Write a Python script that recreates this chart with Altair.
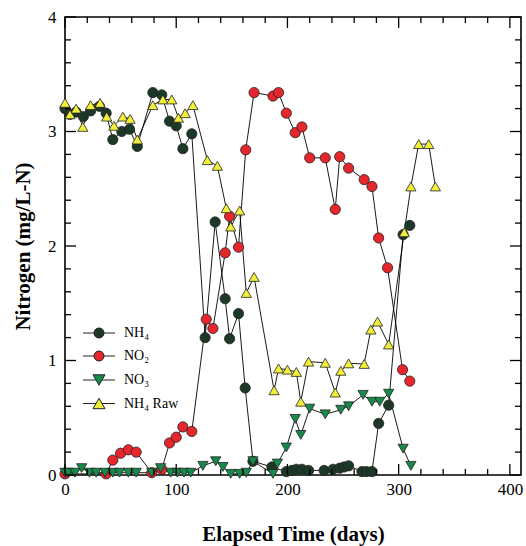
import altair as alt
import pandas as pd

# ---------------- data ----------------
series_names = ["NH₄", "NO₂", "NO₃", "NH₄ Raw"]

nh4_days = [0, 4.5, 10, 16.5, 23, 31, 37, 43, 51, 58, 65, 79, 87, 94, 100, 106, 114,
            126, 135, 144, 148, 156, 162, 169, 186, 199, 204, 208, 213, 219, 233, 241,
            247, 251, 255, 267, 271, 276, 282, 291, 304, 310]
nh4_vals = [3.20, 3.15, 3.17, 3.13, 3.18, 3.22, 3.16, 2.93, 3.00, 3.02, 2.87, 3.34, 3.32,
            3.09, 3.05, 2.85, 2.98, 1.20, 2.21, 1.54, 1.19, 1.41, 0.76, 0.12, 0.07, 0.03,
            0.04, 0.05, 0.05, 0.04, 0.04, 0.05, 0.06, 0.07, 0.08, 0.03, 0.03, 0.03, 0.45,
            0.61, 2.10, 2.18]

no2_days = [0, 37, 43, 50, 57, 64, 78, 87, 94, 100, 106, 114, 127,
            133, 144, 148, 156, 162.5, 170, 187, 192, 199, 207, 213, 220, 234, 243, 247,
            255, 269, 276, 282, 290, 303.5, 310]
no2_vals = [0.01, 0.01, 0.13, 0.19, 0.22, 0.20, 0.02, 0.05,
            0.28, 0.33, 0.42, 0.38, 1.36, 1.28, 1.94, 2.26, 1.99, 2.84, 3.34, 3.31, 3.34,
            3.16, 2.99, 3.04, 2.77, 2.77, 2.32, 2.78, 2.68, 2.58, 2.52, 2.07, 1.81, 0.92,
            0.82]

no3_days = [0, 3, 9, 15, 22, 28, 36, 43, 49, 57, 64, 78, 86, 95, 101, 107, 113, 124,
            135.5, 142, 149, 157, 163, 169, 187, 191, 199, 207, 212, 220, 234, 248, 255,
            268, 276, 283, 291, 304, 311]
no3_vals = [0.02, 0.02, 0.02, 0.06, 0.02, 0.02, 0.02, 0.02, 0.02, 0.02, 0.02, 0.02, 0.06,
            0.02, 0.02, 0.02, 0.02, 0.08, 0.12, 0.07, 0.01, 0.01, 0.02, 0.12, 0.01, 0.10,
            0.24, 0.49, 0.35, 0.58, 0.53, 0.57, 0.60, 0.70, 0.64, 0.64, 0.71, 0.23, 0.08]

raw_days = [0, 4.5, 10, 16, 23, 31.5, 37.5, 44, 52, 58.5, 65, 79, 88, 96, 102, 108, 115,
            128, 137, 145, 149, 157, 163, 170, 188, 192, 200, 208, 212, 219, 234, 243,
            248, 255, 269, 275, 281, 291, 305, 311, 318, 327, 333]
raw_vals = [3.25, 3.15, 3.20, 3.04, 3.23, 3.25, 3.13, 3.05, 3.13, 3.11, 2.93, 3.23, 3.28,
            3.28, 3.12, 3.16, 3.23, 2.75, 2.70, 2.33, 2.17, 2.31, 1.59, 1.73, 0.74, 0.93,
            0.92, 0.90, 0.64, 0.99, 0.98, 0.72, 0.91, 0.975, 0.97, 1.27, 1.34, 1.14, 2.12,
            2.52, 2.89, 2.89, 2.52]

fill_colors = ["#1c3826", "#e5262c", "#178a4b", "#f2ef3a"]
shape_list = ["circle", "circle", "triangle-down", "triangle-up"]

x_major = [0, 100, 200, 300, 400]
x_minor = [20, 40, 60, 80, 120, 140, 160, 180, 220, 240, 260, 280, 320, 340, 360, 380]
y_major = [0, 1, 2, 3, 4]
y_minor = [0.2, 0.4, 0.6, 0.8, 1.2, 1.4, 1.6, 1.8, 2.2, 2.4, 2.6, 2.8, 3.2, 3.4, 3.6, 3.8]

# ---------------- table ----------------
rows = []
for name, ds, vs in [(series_names[0], nh4_days, nh4_vals),
                     (series_names[1], no2_days, no2_vals),
                     (series_names[2], no3_days, no3_vals),
                     (series_names[3], raw_days, raw_vals)]:
    for d, v in zip(ds, vs):
        rows.append({"day": d, "value": v, "series": name, "key": name})
df = pd.DataFrame(rows)

W, H = 456, 458
FONT = "Liberation Serif"
MAJ, MIN = 11, 6

xscale = alt.Scale(domain=[0, 410], nice=False, zero=False)
yscale = alt.Scale(domain=[0, 4], nice=False, zero=False)

x_axis = alt.Axis(values=x_major, format="d", ticks=False, domain=False, grid=False,
                  labelFont=FONT, labelFontSize=17, labelColor="black", labelPadding=6,
                  labelFlush=False, title="Elapsed Time (days)", titleFont=FONT,
                  titleFontSize=21, titleFontWeight="bold", titleColor="black",
                  titlePadding=26)
y_axis = alt.Axis(values=y_major, format="d", ticks=False, domain=False, grid=False,
                  labelFont=FONT, labelFontSize=17, labelColor="black", labelPadding=9,
                  labelFlush=False, title="Nitrogen (mg/L-N)", titleFont=FONT,
                  titleFontSize=21, titleFontWeight="bold", titleColor="black",
                  titlePadding=14)

X = alt.X("day:Q", scale=xscale, axis=x_axis)
Y = alt.Y("value:Q", scale=yscale, axis=y_axis)

lines = alt.Chart(df).mark_line(color="black", strokeWidth=0.9).encode(
    x=X, y=Y, detail="series:N",
)

points = alt.Chart(df).mark_point(filled=True, opacity=1, stroke="#222222",
                                  strokeWidth=0.8).encode(
    x=X, y=Y,
    color=alt.Color("series:N", scale=alt.Scale(domain=series_names, range=fill_colors),
                    legend=None),
    shape=alt.Shape("series:N", scale=alt.Scale(domain=series_names, range=shape_list),
                    legend=None),
    size=alt.value(105),
)

# legend symbols: marker with a line through it (custom paths, unit = sqrt(size)/2)
circ = "M-3.2,0L-1,0M1,0L3.2,0M1,0A1,1,0,1,1,-1,0A1,1,0,1,1,1,0Z"
tri_up = "M-3.2,0L-0.6,0M0.6,0L3.2,0M0,-1.04L1.2,1.04L-1.2,1.04Z"
tri_dn = "M-3.2,0L-0.6,0M0.6,0L3.2,0M0,1.04L1.2,-1.04L-1.2,-1.04Z"

LEG_X, LEG_Y, ROW = 27, 309, 23.5


def legend_group(names, colors, path, row0):
    leg = alt.Legend(orient="none", legendX=LEG_X, legendY=LEG_Y + ROW * row0,
                     title=None, padding=0, labelFont=FONT, labelFontSize=14,
                     labelColor="black", symbolType=path, symbolSize=100,
                     symbolStrokeColor="#222222", symbolStrokeWidth=1,
                     symbolOpacity=1, rowPadding=9, labelOffset=18)
    sub = df[df["key"].isin(names)]
    return alt.Chart(sub).mark_point(filled=False, opacity=0, stroke="#222222",
                                     strokeWidth=1).encode(
        x=X, y=Y,
        fill=alt.Fill("key:N", scale=alt.Scale(domain=names, range=colors), legend=leg),
    )


leg_a = legend_group(series_names[0:2], fill_colors[0:2], circ, 0)
leg_b = legend_group(series_names[2:3], fill_colors[2:3], tri_dn, 2)
leg_c = legend_group(series_names[3:4], fill_colors[3:4], tri_up, 3)


def xticks(vals, length, top):
    d = pd.DataFrame({"t": vals})
    if top:
        ye = dict(y=alt.value(0), y2=alt.value(length))
    else:
        ye = dict(y=alt.value(H), y2=alt.value(H - length))
    return alt.Chart(d).mark_rule(color="black", strokeWidth=1.3).encode(
        x=alt.X("t:Q", scale=xscale, axis=x_axis), **ye)


def yticks(vals, length, right):
    d = pd.DataFrame({"t": vals})
    if right:
        xe = dict(x=alt.value(W), x2=alt.value(W - length))
    else:
        xe = dict(x=alt.value(0), x2=alt.value(length))
    return alt.Chart(d).mark_rule(color="black", strokeWidth=1.3).encode(
        y=alt.Y("t:Q", scale=yscale, axis=y_axis), **xe)


tick_layers = [xticks(x_major, MAJ, False), xticks(x_minor, MIN, False),
               xticks(x_major, MAJ, True), xticks(x_minor, MIN, True),
               yticks(y_major, MAJ, False), yticks(y_minor, MIN, False),
               yticks(y_major, MAJ, True), yticks(y_minor, MIN, True)]

chart = alt.layer(lines, points, leg_a, leg_b, leg_c, *tick_layers).resolve_scale(
    color="independent", shape="independent", fill="independent"
).resolve_legend(fill="independent").properties(
    width=W, height=H,
    autosize=alt.AutoSizeParams(type="none"),
    padding={"left": 65, "top": 17, "right": 5, "bottom": 71},
    background="white",
).configure_view(stroke="black", strokeWidth=1.6)

chart.save("out.html", embed_options={"renderer": "svg", "actions": False})
